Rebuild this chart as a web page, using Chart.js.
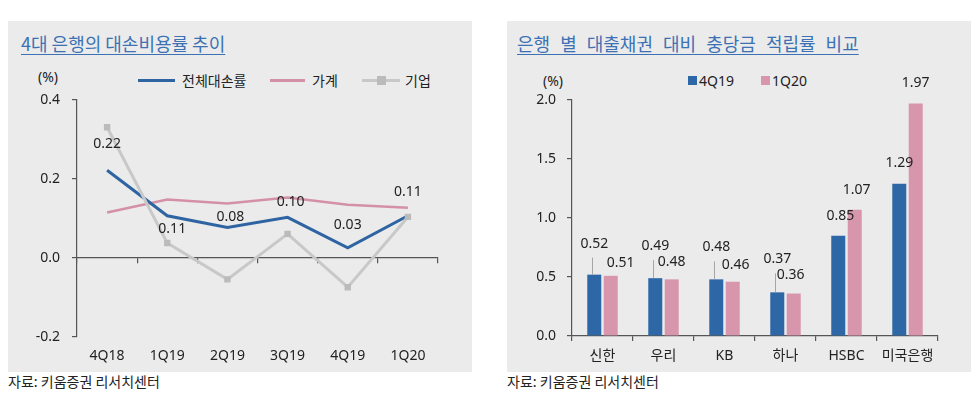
<!DOCTYPE html>
<html><head><meta charset="utf-8">
<script src="https://cdn.jsdelivr.net/npm/chart.js@4.4.1/dist/chart.umd.min.js"></script>
<style>
html,body{margin:0;padding:0;background:#fff;}
body{width:979px;height:397px;position:relative;overflow:hidden;font-family:"Noto Sans","Noto Sans CJK KR",sans-serif;color:#222;}
.panel{position:absolute;top:21px;height:351px;width:464px;background:#EBEBEB;}
.title{position:absolute;top:31px;line-height:25px;color:#3C72B4;font-size:18px;text-decoration:underline;text-underline-offset:3px;text-decoration-thickness:1px;white-space:nowrap;font-family:"Noto Sans CJK KR",sans-serif;}
.src{position:absolute;top:372px;line-height:18px;font-size:14px;color:#222;font-family:"Noto Sans CJK KR",sans-serif;white-space:nowrap;}
.unit{position:absolute;font-size:14px;line-height:18px;color:#222;}
.lg{position:absolute;font-size:14px;line-height:18px;color:#222;white-space:nowrap;font-family:"Noto Sans","Noto Sans CJK KR",sans-serif;}
.sw{position:absolute;}
.cw{position:absolute;}
</style></head>
<body>
<div class="panel" style="left:8px"></div>
<div class="panel" style="left:507px"></div>

<div class="title" style="left:21px">4대 은행의 대손비용률 추이</div>
<div class="title" style="left:517px;word-spacing:6px">은행 별 대출채권 대비 충당금 적립률 비교</div>

<div class="unit" style="left:38px;top:68px">(%)</div>
<div class="unit" style="left:543px;top:72px">(%)</div>

<!-- left legend -->
<div class="sw" style="left:138px;top:79px;width:37px;height:3px;background:#2E64A2"></div>
<div class="lg" style="left:182px;top:72px">전체대손률</div>
<div class="sw" style="left:270px;top:79px;width:35px;height:3px;background:#D491A6"></div>
<div class="lg" style="left:312px;top:72px">가계</div>
<div class="sw" style="left:362px;top:79px;width:38px;height:3px;background:#C8C8C8"></div>
<div class="sw" style="left:377px;top:76px;width:9px;height:9px;background:#BBBBBB"></div>
<div class="lg" style="left:405px;top:72px">기업</div>

<!-- right legend -->
<div class="sw" style="left:688px;top:76px;width:9px;height:9px;background:#2E67A6"></div>
<div class="lg" style="left:699px;top:72px">4Q19</div>
<div class="sw" style="left:761px;top:76px;width:9px;height:9px;background:#D796AC"></div>
<div class="lg" style="left:772px;top:72px">1Q20</div>

<div class="cw" style="left:8px;top:64px;width:464px;height:306px"><canvas id="c1" width="464" height="306"></canvas></div>
<div class="cw" style="left:507px;top:64px;width:464px;height:307px"><canvas id="c2" width="464" height="307"></canvas></div>

<div class="src" style="left:8px">자료: 키움증권 리서치센터</div>
<div class="src" style="left:507px">자료: 키움증권 리서치센터</div>

<script>
// ---- data: left chart ----
const quarters = ['4Q18','1Q19','2Q19','3Q19','4Q19','1Q20'];
const totalLossRate = [0.222, 0.107, 0.077, 0.103, 0.026, 0.107];
const householdRate = [0.115, 0.148, 0.138, 0.153, 0.135, 0.127];
const corporateRate = [0.331, 0.038, -0.054, 0.061, -0.074, 0.104];
const lineYTicks = [-0.2, 0.0, 0.2, 0.4];

// ---- data: right chart ----
const banks = ['신한','우리','KB','하나','HSBC','미국은행'];
const reserve4Q19 = [0.52, 0.49, 0.48, 0.37, 0.85, 1.29];
const reserve1Q20 = [0.51, 0.48, 0.46, 0.36, 1.07, 1.97];
const barYTicks = [0.0, 0.5, 1.0, 1.5, 2.0];

// ---- label placement (layout only) ----
const lineLabelOffsets = [[0,-26],[5,13],[3,-11],[3,-15],[0,-23],[0,-24]];
const blueLabelOffsets = [[0,-31],[0,-32],[0,-32],[0,-33],[2,-20],[0,-21]];
const pinkLabelOffsets = [[10,-13],[0,-17],[3,-17],[-3,-19],[2,-20],[0,-21]];
const leaderCount = 4;

const FONT = '"Noto Sans","Noto Sans CJK KR",sans-serif';
const AXIS = '#555555';
const TXT = '#222222';

Chart.defaults.font.family = FONT;
Chart.defaults.font.size = 14;
Chart.defaults.color = TXT;

const lineLabelPlugin = {
  id: 'lineLabels',
  afterDatasetsDraw(chart) {
    const ctx = chart.ctx;
    const meta = chart.getDatasetMeta(0);
    ctx.save();
    ctx.font = '14px ' + FONT;
    ctx.fillStyle = TXT;
    ctx.textAlign = 'center';
    ctx.textBaseline = 'middle';
    meta.data.forEach((pt, i) => {
      const o = lineLabelOffsets[i];
      ctx.fillText(totalLossRate[i].toFixed(2), pt.x + o[0], pt.y + o[1]);
    });
    ctx.restore();
  }
};

new Chart(document.getElementById('c1'), {
  type: 'line',
  data: {
    labels: quarters,
    datasets: [
      { label: '전체대손률', data: totalLossRate, borderColor: '#2E64A2', borderWidth: 3, pointRadius: 0, tension: 0, order: 1 },
      { label: '가계', data: householdRate, borderColor: '#D491A6', borderWidth: 2.5, pointRadius: 0, tension: 0, order: 2 },
      { label: '기업', data: corporateRate, borderColor: '#C8C8C8', borderWidth: 3, pointStyle: 'rect', pointRadius: 4.5, pointBackgroundColor: '#BBBBBB', pointBorderWidth: 0, tension: 0, order: 0 }
    ]
  },
  options: {
    responsive: false, animation: false, devicePixelRatio: 1,
    layout: { padding: { top: 36, right: 34, left: 0, bottom: 0 } },
    plugins: { legend: { display: false }, tooltip: { enabled: false } },
    scales: {
      x: {
        offset: true,
        grid: { display: false, drawTicks: false },
        border: { display: false },
        ticks: { padding: 11, color: TXT, font: { size: 14 } },
        afterFit: s => { s.height = 33; }
      },
      x2: {
        type: 'category', position: { y: 0 }, offset: true,
        grid: { offset: true, drawOnChartArea: false, tickLength: 5, color: AXIS, lineWidth: 1.2 },
        border: { color: AXIS, width: 1.2 },
        ticks: { display: false }
      },
      y: {
        min: -0.2, max: 0.4,
        afterBuildTicks: s => { s.ticks = lineYTicks.map(v => ({ value: v })); },
        ticks: { callback: v => Number(v).toFixed(1), padding: 12, color: TXT, font: { size: 14 } },
        grid: { drawOnChartArea: false, tickLength: 5, color: AXIS, lineWidth: 1.2 },
        border: { color: AXIS, width: 1.2 },
        afterFit: s => { s.width = 69; }
      }
    }
  },
  plugins: [lineLabelPlugin]
});

const barLabelPlugin = {
  id: 'barLabels',
  afterDatasetsDraw(chart) {
    const ctx = chart.ctx;
    const m0 = chart.getDatasetMeta(0), m1 = chart.getDatasetMeta(1);
    ctx.save();
    ctx.font = '14px ' + FONT;
    ctx.fillStyle = TXT;
    ctx.textAlign = 'center';
    ctx.textBaseline = 'middle';
    m0.data.forEach((b, i) => {
      const o = blueLabelOffsets[i];
      const ly = b.y + o[1];
      if (i < leaderCount) {
        ctx.strokeStyle = '#A6A6A6';
        ctx.lineWidth = 1;
        ctx.beginPath();
        ctx.moveTo(Math.round(b.x) - 1.5, ly + 14);
        ctx.lineTo(Math.round(b.x) - 1.5, b.y);
        ctx.stroke();
      }
      ctx.fillText(reserve4Q19[i].toFixed(2), b.x + o[0], ly);
    });
    m1.data.forEach((b, i) => {
      const o = pinkLabelOffsets[i];
      ctx.fillText(reserve1Q20[i].toFixed(2), b.x + o[0], b.y + o[1]);
    });
    ctx.restore();
  }
};

new Chart(document.getElementById('c2'), {
  type: 'bar',
  data: {
    labels: banks,
    datasets: [
      { label: '4Q19', data: reserve4Q19, backgroundColor: '#2E67A6', categoryPercentage: 0.54, barPercentage: 0.85 },
      { label: '1Q20', data: reserve1Q20, backgroundColor: '#D796AC', categoryPercentage: 0.54, barPercentage: 0.85 }
    ]
  },
  options: {
    responsive: false, animation: false, devicePixelRatio: 1,
    layout: { padding: { top: 36, right: 33, left: 0, bottom: 0 } },
    plugins: { legend: { display: false }, tooltip: { enabled: false } },
    scales: {
      x: {
        grid: { offset: true, drawOnChartArea: false, tickLength: 5, color: AXIS, lineWidth: 1.2 },
        border: { color: AXIS, width: 1.2 },
        ticks: { padding: 7, color: TXT, font: { size: 14 } },
        afterFit: s => { s.height = 35; }
      },
      y: {
        min: 0, max: 2,
        afterBuildTicks: s => { s.ticks = barYTicks.map(v => ({ value: v })); },
        ticks: { callback: v => Number(v).toFixed(1), padding: 11, color: TXT, font: { size: 14 } },
        grid: { drawOnChartArea: false, tickLength: 5, color: AXIS, lineWidth: 1.2 },
        border: { color: AXIS, width: 1.2 },
        afterFit: s => { s.width = 65; }
      }
    }
  },
  plugins: [barLabelPlugin]
});
</script>
</body></html>
